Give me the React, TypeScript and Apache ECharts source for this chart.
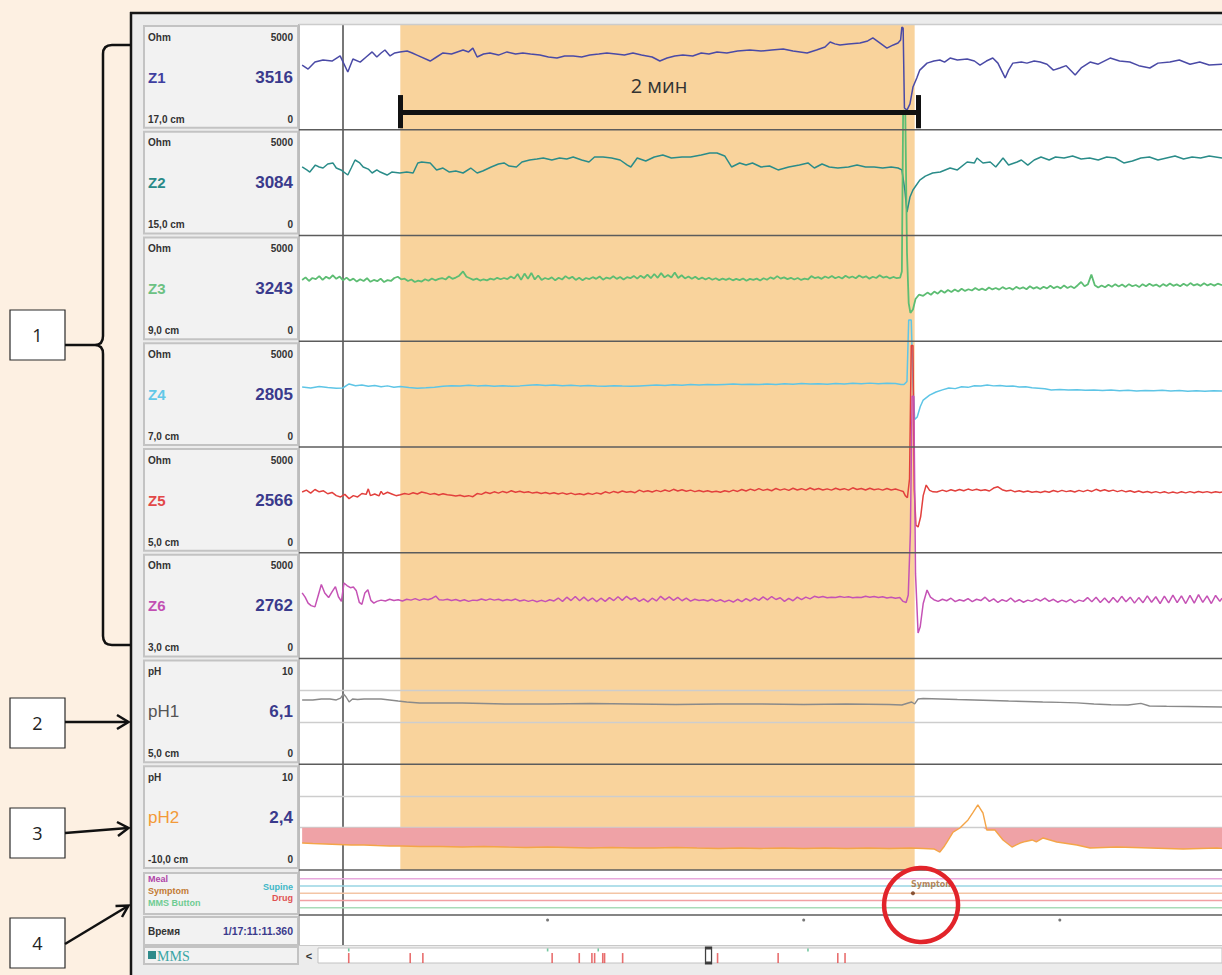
import React, { useEffect, useRef } from "react";
import * as echarts from "echarts";

// ---------- time scale (seconds) ----------
const T_START = 2;
const T_END = 218;
const CURSOR_T = 12;
const EPISODE: [number, number] = [25.5, 146];
const BRACKET: [number, number] = [25.4, 146.8];
const BRACKET_LABEL = "2 мин";
const TIME_TICKS = [60, 120, 180];

// ---------- channel labels ----------
const CHANNEL_NAMES = ["Z1", "Z2", "Z3", "Z4", "Z5", "Z6", "pH1", "pH2"];
const CHANNEL_VALUES = ["3516", "3084", "3243", "2805", "2566", "2762", "6,1", "2,4"];
const CHANNEL_POS = ["17,0 cm", "15,0 cm", "9,0 cm", "7,0 cm", "5,0 cm", "3,0 cm", "5,0 cm", "-10,0 cm"];
const CHANNEL_UNITS = ["Ohm", "Ohm", "Ohm", "Ohm", "Ohm", "Ohm", "pH", "pH"];
const CHANNEL_MAX = [5000, 5000, 5000, 5000, 5000, 5000, 10, 10];
const PH_GRID = [4, 7];
const TIME_LABEL = "Время";
const TIME_VALUE = "1/17:11:11.360";

// ---------- events ----------
const EVENT_LEFT = ["Meal", "Symptom", "MMS Button"];
const EVENT_RIGHT = ["Supine", "Drug"];
const EVENT_LEVELS = [5, 4, 3, 2, 1]; // Meal, Supine, Symptom, Drug, MMS
const SYMPTOM_EVENTS: [number, number][] = [[145.6, 3]];
const SYMPTOM_NAME = "Symptom";

// ---------- overview scroll bar (0..1000 of recording) ----------
const SCROLL_RED = [34, 102, 116, 259, 289, 303, 306, 315, 317, 337, 442, 509, 575, 583];
const SCROLL_GREEN = [34, 254, 310, 542];
const SCROLL_VIEW = 432;

// ---------- impedance traces (Ohm) ----------
const Z1: [number, number][] = [
  [2.5,3060],[3.9,2870],[5.5,3200],[7.4,3300],[9.5,3250],[11.4,3490],[13.2,2730],[14.4,3345],[16.1,3200],[17.5,3440],[18.9,3680],[20.0,3440],[21.0,3630],[21.9,3770],[23.1,3490],[24.2,3630],[25.4,3680],[27.1,3720],[28.3,3630],[29.4,3530],[32.5,3250],[34.0,3440],[35.5,3630],[37.5,3580],[40.2,3770],[41.5,3680],[42.5,3860],[43.5,3440],[45.0,3580],[46.5,3630],[48.5,3530],[50.5,3680],[52.5,3580],[54.2,3630],[56.0,3580],[58.2,3530],[60.2,3440],[62.2,3390],[64.0,3490],[66.0,3490],[68.0,3440],[69.9,3530],[72.0,3580],[73.9,3630],[76.0,3580],[78.0,3530],[80.0,3630],[82.0,3530],[84.5,3440],[86.3,3250],[88.0,3390],[89.8,3490],[91.7,3530],[94.0,3490],[96.0,3630],[97.8,3580],[99.7,3680],[102.0,3630],[104.5,3720],[107.4,3770],[110.0,3720],[112.5,3770],[115.2,3820],[117.5,3720],[120.8,3630],[123.0,3770],[125.0,3910],[126.2,4150],[127.3,4060],[128.5,4010],[130.5,4060],[133.2,4100],[135.0,4200],[136.2,4340],[137.5,4150],[139.5,3860],[141.0,4010],[142.1,4100],[142.7,4240],[143.0,4860],[143.3,4810],[143.6,1030],[144.2,930],[144.9,1220],[145.6,2020],[146.5,2450],[147.2,2820],[148.9,3150],[150.5,3250],[151.9,3300],[153.0,3200],[154.3,3390],[156.0,3300],[158.3,3345],[160.0,3250],[161.3,3060],[162.8,3250],[164.3,3390],[165.5,3150],[167.2,2450],[168.0,2820],[169.0,3150],[171.0,3200],[172.3,3150],[174.0,3250],[175.4,3200],[177.0,3100],[178.5,2820],[180.0,2920],[181.5,3030],[183.6,2590],[185.0,2920],[187.1,3200],[189.0,3100],[191.8,3390],[194.0,3250],[196.4,3200],[198.5,3030],[201.1,2920],[203.0,3150],[205.8,3200],[208.0,3300],[210.5,3100],[212.8,3200],[215.0,3060],[218.0,3100]
];
const Z2: [number, number][] = [
  [2.5,3240],[3.6,3100],[4.3,3000],[5.6,3330],[6.5,3240],[7.4,3190],[8.5,3380],[9.7,3430],[10.5,3190],[11.6,3100],[13.2,2860],[14.0,3190],[14.9,3570],[16.0,3430],[16.8,3240],[18.0,3140],[18.9,2955],[20.0,3100],[20.8,3000],[22.4,2860],[23.5,3000],[25.4,2955],[27.0,3000],[28.5,2955],[29.6,3430],[30.5,3475],[32.5,3430],[34.0,3100],[35.5,3190],[37.0,3000],[38.5,3050],[40.2,2955],[42.0,3190],[43.5,2955],[44.8,3050],[46.8,3240],[48.5,3380],[49.8,3430],[51.0,3285],[52.7,3240],[54.0,3475],[55.8,3570],[57.5,3620],[59.0,3665],[61.0,3570],[62.8,3665],[64.5,3620],[66.0,3710],[68.0,3570],[69.7,3475],[71.0,3710],[73.0,3710],[75.0,3665],[77.0,3570],[78.7,3330],[79.5,3240],[81.0,3665],[83.0,3520],[85.0,3710],[87.0,3805],[89.0,3665],[91.5,3710],[93.5,3710],[96.0,3805],[98.0,3900],[99.7,3900],[101.5,3760],[103.1,3240],[105.0,3430],[106.5,3330],[108.0,3430],[110.0,3240],[112.0,3285],[114.0,3100],[116.5,3240],[119.0,3330],[121.0,3430],[122.5,3190],[124.3,3380],[126.0,3240],[128.0,3190],[130.5,3240],[132.5,3330],[134.5,3240],[136.5,3240],[138.5,3190],[140.5,3240],[142.1,3190],[143.0,3100],[143.7,2150],[144.2,1110],[144.9,1820],[145.6,2150],[147.2,2620],[148.5,2810],[150.2,2955],[152.0,3000],[154.3,3190],[156.0,3100],[158.3,3475],[160.0,3430],[160.6,3665],[162.0,3430],[163.7,3475],[165.0,3240],[166.7,3665],[168.0,3330],[170.0,3475],[171.0,3570],[172.5,3330],[174.0,3570],[175.6,3710],[177.5,3570],[179.0,3710],[181.0,3665],[183.0,3760],[185.0,3620],[187.0,3665],[189.0,3570],[191.0,3710],[193.0,3665],[195.0,3430],[197.0,3520],[199.0,3665],[201.0,3710],[203.0,3570],[205.0,3665],[207.0,3760],[209.0,3620],[211.0,3710],[213.0,3665],[215.0,3760],[218.0,3665]
];
const Z3: [number, number][] = [
  [2.5,2900],[3.3,3020],[4.1,2850],[4.9,2990],[5.7,2940],[6.5,3080],[7.3,2900],[8.1,3050],[8.9,2960],[9.7,3120],[10.5,2950],[11.3,3060],[12.1,2880],[12.9,3010],[13.7,2870],[14.5,2960],[15.3,2820],[16.1,2930],[16.9,2850],[17.7,2980],[18.5,2810],[19.3,2900],[20.1,2840],[20.9,2960],[21.7,2800],[22.5,2890],[23.3,2850],[24.1,2990],[24.9,3050],[25.7,2930],[26.5,2960],[27.3,2850],[28.1,2920],[28.9,2800],[29.7,2870],[30.5,2820],[31.3,2930],[32.1,2860],[32.9,2970],[33.7,2880],[34.5,2950],[35.3,2990],[36.1,2920],[36.9,3060],[37.7,2950],[38.5,3010],[39.3,3100],[40.2,3300],[41.0,3050],[41.8,2980],[42.6,2900],[43.4,2960],[44.2,2870],[45.0,2930],[45.8,2880],[46.6,2960],[47.4,2910],[48.2,3000],[49.0,2930],[49.8,2990],[50.6,2940],[51.4,3060],[52.2,2970],[53.0,3180],[53.8,2900],[54.6,3200],[55.4,2950],[56.2,3230],[57.0,2920],[57.8,3110],[58.6,2900],[59.4,2990],[60.2,2930],[61.0,3020],[61.8,2880],[62.6,3000],[63.4,2920],[64.2,3080],[65.0,2960],[65.8,3050],[66.6,2900],[67.4,3000],[68.2,2880],[69.0,2990],[69.8,2940],[70.6,3030],[71.4,2950],[72.2,3060],[73.0,2910],[73.8,3010],[74.6,2960],[75.4,3070],[76.2,2950],[77.0,3040],[77.8,2920],[78.6,3030],[79.4,2980],[80.2,3090],[81.0,2960],[81.8,3100],[82.6,2990],[83.4,3150],[84.2,2980],[85.0,3180],[85.8,3000],[86.6,3220],[87.4,3020],[88.2,3130],[89.0,3010],[89.8,3250],[90.6,2990],[91.4,3120],[92.2,2970],[93.0,3060],[93.8,2950],[94.6,3050],[95.4,2930],[96.2,3010],[97.0,2920],[97.8,3000],[98.6,2910],[99.4,2980],[100.2,2890],[101.0,2960],[101.8,2900],[102.6,2970],[103.4,2880],[104.2,2950],[105.0,2890],[105.8,2970],[106.6,2860],[107.4,2950],[108.2,2900],[109.0,2960],[109.8,2870],[110.6,2980],[111.4,2910],[112.2,3020],[113.0,2950],[113.8,3080],[114.6,2960],[115.4,3020],[116.2,2940],[117.0,3000],[117.8,2920],[118.6,2990],[119.4,2900],[120.2,2960],[121.0,2920],[121.8,3080],[122.6,2990],[123.4,3030],[124.2,2950],[125.0,3060],[125.8,2990],[126.6,3090],[127.4,2980],[128.2,3050],[129.0,2970],[129.8,3100],[130.6,3000],[131.4,3060],[132.2,2980],[133.0,3110],[133.8,3010],[134.6,3070],[135.4,2960],[136.2,3050],[137.0,2990],[137.8,3120],[138.6,3010],[139.4,3060],[140.2,2970],[141.0,3040],[141.8,2980],[142.6,3010],[143.0,3300],[143.3,10900],[143.8,10900],[144.2,4200],[144.6,1800],[145.0,1340],[145.6,1500],[146.2,2000],[147.0,2200],[148.0,2150],[149.0,2300],[149.8,2200],[150.6,2350],[151.4,2250],[152.2,2400],[153.0,2290],[153.8,2420],[154.6,2330],[155.4,2450],[156.2,2350],[157.0,2480],[157.8,2380],[158.6,2460],[159.4,2400],[160.2,2520],[161.0,2420],[161.8,2490],[162.6,2410],[163.4,2540],[164.2,2450],[165.0,2520],[165.8,2440],[166.6,2560],[167.4,2470],[168.2,2530],[169.0,2440],[169.8,2570],[170.6,2480],[171.4,2550],[172.2,2460],[173.0,2600],[173.8,2490],[174.6,2560],[175.4,2470],[176.2,2580],[177.0,2500],[177.8,2620],[178.6,2510],[179.4,2590],[180.2,2500],[181.0,2640],[181.8,2520],[182.6,2600],[183.4,2510],[184.2,2650],[185.0,2800],[185.8,2600],[186.6,2700],[187.4,3150],[188.2,2650],[189.0,2540],[189.8,2640],[190.6,2550],[191.4,2670],[192.2,2580],[193.0,2700],[193.8,2590],[194.6,2680],[195.4,2570],[196.2,2700],[197.0,2600],[197.8,2660],[198.6,2560],[199.4,2700],[200.2,2600],[201.0,2720],[201.8,2620],[202.6,2680],[203.4,2580],[204.2,2700],[205.0,2610],[205.8,2730],[206.6,2620],[207.4,2690],[208.2,2600],[209.0,2720],[209.8,2620],[210.6,2750],[211.4,2640],[212.2,2700],[213.0,2620],[213.8,2740],[214.6,2640],[215.4,2710],[216.2,2630],[217.0,2720],[218.0,2650]
];
const Z4: [number, number][] = [
  [2.5,2840],[4.5,2790],[6.5,2860],[8.5,2810],[10.5,2780],[12.0,2790],[13.5,2980],[15.0,2900],[16.5,2930],[18.0,2870],[19.5,2910],[21.0,2850],[22.5,2890],[24.0,2830],[25.5,2860],[27.5,2810],[29.5,2780],[31.5,2800],[33.5,2830],[35.5,2870],[37.5,2900],[39.5,2880],[41.5,2920],[43.5,2890],[45.5,2910],[47.5,2870],[49.5,2900],[51.5,2870],[53.5,2890],[55.5,2920],[57.5,2940],[59.5,2910],[61.5,2930],[63.5,2900],[65.5,2920],[67.5,2890],[69.5,2910],[71.5,2880],[73.5,2870],[75.5,2900],[77.5,2880],[79.5,2870],[81.5,2890],[83.5,2910],[85.5,2930],[87.5,2910],[89.5,2940],[91.5,2920],[93.5,2950],[95.5,2930],[97.5,2960],[99.5,2940],[101.5,2960],[103.5,2980],[105.5,2950],[107.5,2970],[109.5,2950],[111.5,2980],[113.5,2960],[115.5,2990],[117.5,2970],[119.5,3000],[121.5,2980],[123.5,2990],[125.5,2970],[127.5,3000],[129.5,2980],[131.5,3010],[133.5,2990],[135.5,3020],[137.5,2990],[139.5,3010],[141.5,3000],[142.8,2960],[143.5,2950],[144.2,3100],[144.6,6000],[145.2,6000],[145.6,3000],[146.0,1300],[146.6,1420],[147.3,1900],[148.0,2220],[149.5,2450],[151.0,2600],[152.5,2700],[154.0,2790],[155.5,2760],[157.0,2850],[158.5,2820],[160.0,2900],[161.5,2880],[163.0,2930],[164.5,2890],[166.0,2910],[167.5,2870],[169.0,2880],[170.5,2840],[172.0,2850],[173.5,2800],[175.0,2780],[176.5,2750],[178.0,2700],[180.0,2720],[182.0,2690],[184.0,2710],[186.0,2680],[188.0,2700],[190.0,2670],[192.0,2690],[194.0,2660],[196.0,2680],[198.0,2650],[200.0,2670],[202.0,2660],[204.0,2680],[206.0,2650],[208.0,2670],[210.0,2640],[212.0,2660],[214.0,2640],[216.0,2660],[218.0,2650]
];
const Z5: [number, number][] = [
  [2.5,2870],[3.5,2960],[4.5,2820],[5.5,2990],[6.5,2880],[7.5,2930],[8.5,2790],[9.5,2850],[10.5,2700],[11.5,2640],[12.5,2760],[13.5,2560],[14.5,2700],[15.5,2640],[16.5,2800],[17.5,2760],[18.0,3020],[18.5,2700],[19.5,2780],[20.5,2690],[21.0,2900],[21.5,2760],[22.5,2860],[23.5,2780],[24.5,2700],[25.5,2740],[26.5,2800],[27.5,2760],[28.5,2840],[29.5,2780],[30.5,2870],[31.5,2830],[32.5,2760],[33.5,2800],[34.5,2730],[35.5,2790],[36.5,2740],[37.5,2720],[38.5,2680],[39.5,2720],[40.5,2660],[41.5,2700],[42.5,2650],[43.5,2800],[44.5,2760],[45.5,2860],[46.5,2800],[47.5,2880],[48.5,2820],[49.5,2900],[50.5,2840],[51.5,2930],[52.5,2860],[53.5,2910],[54.5,2850],[55.5,2880],[56.5,2820],[57.5,2860],[58.5,2800],[59.5,2850],[60.5,2790],[61.5,2840],[62.5,2780],[63.5,2830],[64.5,2770],[65.5,2820],[66.5,2750],[67.5,2790],[68.5,2740],[69.5,2810],[70.5,2760],[71.5,2830],[72.5,2780],[73.5,2880],[74.5,2820],[75.5,2900],[76.5,2840],[77.5,2920],[78.5,2860],[79.5,2900],[80.5,2840],[81.5,2960],[82.5,2880],[83.5,2930],[84.5,2870],[85.5,2950],[86.5,2890],[87.5,2970],[88.5,2900],[89.5,3000],[90.5,2920],[91.5,2980],[92.5,2910],[93.5,2960],[94.5,2890],[95.5,2940],[96.5,2880],[97.5,2930],[98.5,2870],[99.5,2910],[100.5,2860],[101.5,2930],[102.5,2880],[103.5,2960],[104.5,2900],[105.5,2990],[106.5,2920],[107.5,3010],[108.5,2940],[109.5,3030],[110.5,2950],[111.5,3000],[112.5,2930],[113.5,3040],[114.5,2960],[115.5,3020],[116.5,2950],[117.5,3050],[118.5,2970],[119.5,3030],[120.5,2960],[121.5,3060],[122.5,2980],[123.5,3040],[124.5,2970],[125.5,3020],[126.5,2960],[127.5,3050],[128.5,2980],[129.5,3030],[130.5,2960],[131.5,3070],[132.5,2990],[133.5,3040],[134.5,2970],[135.5,3050],[136.5,2980],[137.5,3020],[138.5,2960],[139.5,3040],[140.5,2970],[141.5,3010],[142.5,2950],[143.3,2900],[143.8,2700],[144.3,2600],[144.8,3500],[145.2,9800],[145.6,9800],[145.9,3000],[146.3,1300],[146.8,1220],[147.4,1700],[148.0,2700],[148.7,3200],[149.5,2950],[150.3,2880],[151.2,2870],[152.5,2960],[153.5,2900],[154.5,2980],[155.5,2920],[156.5,2990],[157.5,2930],[158.5,3010],[159.5,2950],[160.5,3000],[161.5,2940],[162.5,2980],[163.5,2920],[164.5,3060],[165.5,3120],[166.5,2980],[167.5,2920],[168.5,2960],[169.5,2880],[170.5,2930],[171.5,2870],[172.5,2920],[173.5,2860],[174.5,2900],[175.5,2850],[176.5,2910],[177.5,2860],[178.5,2940],[179.5,2880],[180.5,2950],[181.5,2890],[182.5,2930],[183.5,2870],[184.5,2950],[185.5,2890],[186.5,2960],[187.5,2900],[188.5,3000],[189.5,2920],[190.5,2980],[191.5,2910],[192.5,2960],[193.5,2890],[194.5,2950],[195.5,2880],[196.5,2930],[197.5,2860],[198.5,2920],[199.5,2850],[200.5,2900],[201.5,2840],[202.5,2890],[203.5,2830],[204.5,2880],[205.5,2820],[206.5,2870],[207.5,2820],[208.5,2880],[209.5,2830],[210.5,2890],[211.5,2840],[212.5,2900],[213.5,2850],[214.5,2890],[215.5,2840],[216.5,2880],[217.5,2850],[218.0,2870]
];
const Z6: [number, number][] = [
  [2.5,3100],[3.2,2900],[3.9,2620],[4.6,2500],[5.5,2440],[6.3,3000],[7.0,3500],[7.8,3100],[8.7,2880],[9.5,3150],[10.3,3400],[11.0,2920],[11.7,2700],[12.3,3570],[13.0,3450],[13.8,3350],[14.5,3380],[15.2,3200],[15.9,2650],[16.5,2560],[17.2,3100],[17.9,3250],[18.6,2750],[19.3,2620],[20.0,2700],[21.0,2760],[22.0,2720],[23.0,2800],[24.0,2740],[25.0,2780],[26.0,2720],[27.0,2800],[28.0,2760],[29.0,2830],[30.0,2750],[31.0,2820],[32.0,2780],[33.0,2850],[33.8,2950],[34.6,2780],[35.5,2760],[36.5,2800],[37.5,2740],[38.5,2790],[39.5,2720],[40.5,2780],[41.5,2700],[42.5,2760],[43.5,2740],[44.5,2810],[45.5,2750],[46.5,2820],[47.5,2760],[48.5,2800],[49.5,2730],[50.5,2790],[51.5,2740],[52.5,2810],[53.5,2720],[54.5,2770],[55.5,2700],[56.5,2760],[57.5,2680],[58.5,2750],[59.5,2690],[60.5,2780],[61.5,2720],[62.5,2860],[63.5,2700],[64.5,2900],[65.5,2740],[66.5,2930],[67.5,2730],[68.5,2900],[69.5,2720],[70.5,2860],[71.5,2690],[72.5,2850],[73.5,2700],[74.5,2880],[75.5,2740],[76.5,2920],[77.5,2750],[78.5,2940],[79.5,2780],[80.5,2880],[81.5,2700],[82.5,2820],[83.5,2680],[84.5,2850],[85.5,2720],[86.5,2940],[87.5,2770],[88.5,2910],[89.5,2750],[90.5,2890],[91.5,2730],[92.5,2850],[93.5,2710],[94.5,2800],[95.5,2740],[96.5,2780],[97.5,2720],[98.5,2800],[99.5,2700],[100.5,2780],[101.5,2680],[102.5,2760],[103.5,2670],[104.5,2800],[105.5,2690],[106.5,2830],[107.5,2720],[108.5,2860],[109.5,2750],[110.5,2910],[111.5,2770],[112.5,2930],[113.5,2790],[114.5,2870],[115.5,2700],[116.5,2840],[117.5,2730],[118.5,2900],[119.5,2780],[120.5,2900],[121.5,2820],[122.5,2940],[123.5,2880],[124.5,2930],[125.5,2870],[126.5,2900],[127.5,2880],[128.5,2930],[129.5,2890],[130.5,2920],[131.5,2870],[132.5,2900],[133.5,2880],[134.5,2940],[135.5,2900],[136.5,2930],[137.5,2880],[138.5,2920],[139.5,2860],[140.5,2900],[141.5,2850],[142.5,2880],[143.3,2700],[144.0,2650],[144.5,3000],[145.0,6000],[145.4,12400],[145.8,12400],[146.2,4000],[146.8,1210],[147.3,1500],[148.0,2600],[148.9,3240],[149.7,2900],[150.5,2780],[151.5,2700],[152.5,2800],[153.5,2730],[154.5,2850],[155.5,2690],[156.5,2780],[157.5,2720],[158.5,2830],[159.5,2690],[160.5,2800],[161.5,2740],[162.5,2900],[163.5,2700],[164.5,2820],[165.5,2650],[166.5,2780],[167.5,2700],[168.5,2860],[169.5,2680],[170.5,2780],[171.5,2660],[172.5,2760],[173.5,2700],[174.5,2820],[175.5,2720],[176.5,2850],[177.5,2700],[178.5,2800],[179.5,2660],[180.5,2760],[181.5,2680],[182.5,2800],[183.5,2640],[184.5,2760],[185.5,2700],[186.5,2880],[187.5,2680],[188.5,2900],[189.5,2650],[190.5,2860],[191.5,2640],[192.5,2880],[193.5,2660],[194.5,2940],[195.5,2680],[196.5,2900],[197.5,2620],[198.5,2880],[199.5,2640],[200.5,2960],[201.5,2660],[202.5,2920],[203.5,2600],[204.5,2950],[205.5,2630],[206.5,3000],[207.5,2640],[208.5,2960],[209.5,2600],[210.5,2980],[211.5,2620],[212.5,3020],[213.5,2650],[214.5,2960],[215.5,2600],[216.5,2980],[217.5,2700],[218.0,2850]
];

// ---------- pH traces ----------
const PH1: [number, number][] = [
  [2.5,6.08],[5,6.08],[7,6.17],[9,6.17],[10.5,6.08],[11.5,6.26],[12.2,6.64],[12.8,6.36],[13.5,5.89],[14.3,6.17],[15.5,6.12],[17,6.17],[19,6.17],[21,6.17],[23,6.08],[25,5.98],[27,5.89],[30,5.79],[35,5.79],[40,5.79],[50,5.70],[60,5.70],[70,5.74],[80,5.70],[90,5.65],[100,5.70],[110,5.70],[120,5.65],[130,5.70],[140,5.65],[143,5.60],[144.5,5.79],[145.3,5.89],[146,5.70],[146.8,6.17],[148,6.22],[152,6.17],[156,6.12],[160,6.08],[164,6.03],[168,5.98],[172,5.94],[176,5.89],[180,5.85],[184,5.80],[188,5.70],[192,5.62],[196,5.60],[199,5.76],[201,5.51],[205,5.48],[210,5.46],[214,5.44],[218,5.41]
];
const PH2: [number, number][] = [
  [2.5,2.55],[5,2.50],[8,2.46],[11,2.41],[14,2.36],[17,2.36],[20,2.31],[23,2.27],[26,2.27],[30,2.22],[35,2.22],[40,2.17],[45,2.22],[50,2.17],[55,2.13],[60,2.17],[65,2.13],[70,2.08],[75,2.13],[80,2.08],[85,2.08],[90,2.13],[95,2.08],[100,2.04],[105,2.08],[110,2.04],[115,2.08],[120,2.04],[125,2.08],[130,2.04],[135,2.08],[140,2.04],[145,2.08],[148,2.04],[150.5,1.99],[151.9,1.70],[153.0,2.27],[153.6,2.65],[155.0,3.59],[156.6,3.97],[158.5,4.73],[159.6,5.40],[160.8,6.15],[162.0,5.39],[162.9,3.78],[164.8,3.78],[166.7,2.84],[168.8,2.17],[170.7,2.55],[172.0,2.70],[173.5,2.84],[174.5,2.65],[176.1,3.03],[179.3,2.65],[184.0,2.36],[187.1,2.08],[193.4,2.17],[201.1,2.08],[208.9,1.99],[216.8,2.08],[218,2.04]
];
const ACID_THRESHOLD = 4;

// ---------- layout ----------
const W = 1222;
const H = 975;
const PLOT_L = 300;
const PLOT_W = 922;
const ROW_TOP = 24;
const ROW_H = 105.75;

const Z_DATA = [Z1, Z2, Z3, Z4, Z5, Z6];
const Z_COLORS = ["#4a4aa6", "#2a8c89", "#5dbd73", "#5ec5e6", "#e2403d", "#c552b5"];
const NAME_COLORS = ["#3f3fa0", "#2a8a88", "#6cc183", "#62c8e8", "#e24848", "#c24fb2", "#555555", "#f39a38"];
const EVENT_COLORS = ["#e8a9dd", "#98d5e3", "#f3c5a5", "#f2a0a3", "#a9dcb8"];
const EVENT_LEFT_COLORS = ["#b044a8", "#c27a34", "#6fcc92"];
const EVENT_RIGHT_COLORS = ["#3fb7c7", "#e05252"];

const FONT = '"Liberation Sans", Arial, sans-serif';

function buildGraphic(): any[] {
  const g: any[] = [];
  g.push({ type: "rect", z: 0, silent: true, shape: { x: 132, y: 14, width: W - 132, height: H - 14 }, style: { fill: "#ececec" } });
  g.push({ type: "rect", z: 0, silent: true, shape: { x: 299, y: 24, width: W - 299, height: 921 }, style: { fill: "#ffffff" } });
  g.push({ type: "line", z: 6, silent: true, shape: { x1: 130, y1: 13, x2: W, y2: 13 }, style: { stroke: "#161616", lineWidth: 2.5 } });
  g.push({ type: "line", z: 6, silent: true, shape: { x1: 131, y1: 12, x2: 131, y2: H }, style: { stroke: "#161616", lineWidth: 2.5 } });
  g.push({ type: "line", z: 6, silent: true, shape: { x1: 299, y1: 24, x2: 299, y2: 945 }, style: { stroke: "#bdbdbd", lineWidth: 2 } });
  g.push({ type: "line", z: 6, silent: true, shape: { x1: 299, y1: 24.5, x2: W, y2: 24.5 }, style: { stroke: "#cccccc", lineWidth: 1.5 } });
  for (let i = 1; i <= 8; i++) {
    const y = ROW_TOP + i * ROW_H;
    g.push({ type: "line", z: 6, silent: true, shape: { x1: 299, y1: y, x2: W, y2: y }, style: { stroke: "#5c5c5c", lineWidth: 1.6 } });
  }
  g.push({ type: "line", z: 6, silent: true, shape: { x1: 299, y1: 915, x2: W, y2: 915 }, style: { stroke: "#5c5c5c", lineWidth: 1.6 } });
  g.push({ type: "line", z: 6, silent: true, shape: { x1: 299, y1: 945.5, x2: W, y2: 945.5 }, style: { stroke: "#c8c8c8", lineWidth: 1.2 } });
  g.push({ type: "rect", z: 1, silent: true, shape: { x: 318, y: 948, width: W - 318, height: 15 }, style: { fill: "#ffffff", stroke: "#c2c2c2", lineWidth: 1 } });
  g.push({ type: "text", z: 6, silent: true, x: 309, y: 956, style: { text: "<", fill: "#333", font: `bold 11px ${FONT}`, textAlign: "center", textVerticalAlign: "middle" } });

  const cell = (y: number, h: number) => ({ type: "rect", z: 1, silent: true, shape: { x: 144, y, width: 154, height: h }, style: { fill: "#f2f2f2", stroke: "#c3c3c3", lineWidth: 2 } });
  CHANNEL_NAMES.forEach((name, i) => {
    const top = ROW_TOP + i * ROW_H;
    g.push(cell(top + 2, ROW_H - 4));
    const isPh = i >= 6;
    const txt = (text: string, x: number, y: number, font: string, fill: string, align = "left") => ({
      type: "text", z: 6, silent: true, x, y,
      style: { text, fill, font, textAlign: align, textVerticalAlign: "middle" },
    });
    g.push(txt(CHANNEL_UNITS[i], 148, top + 13, `bold 10px ${FONT}`, "#333"));
    g.push(txt(String(CHANNEL_MAX[i]), 293, top + 13, `bold 10px ${FONT}`, "#333", "right"));
    g.push(txt(name, 148, top + 53, isPh ? `17px ${FONT}` : `bold 15px ${FONT}`, NAME_COLORS[i]));
    g.push(txt(CHANNEL_VALUES[i], 293, top + 53, `bold 17px ${FONT}`, "#3a3a8c", "right"));
    g.push(txt(CHANNEL_POS[i], 148, top + 95, `bold 10px ${FONT}`, "#333"));
    g.push(txt("0", 293, top + 95, `bold 10px ${FONT}`, "#333", "right"));
  });
  g.push(cell(873, 41));
  const evLeftY = [879, 891, 903];
  EVENT_LEFT.forEach((t, k) => g.push({ type: "text", z: 6, silent: true, x: 148, y: evLeftY[k], style: { text: t, fill: EVENT_LEFT_COLORS[k], font: `bold 9px ${FONT}`, textAlign: "left", textVerticalAlign: "middle" } }));
  const evRightY = [887, 898];
  EVENT_RIGHT.forEach((t, k) => g.push({ type: "text", z: 6, silent: true, x: 293, y: evRightY[k], style: { text: t, fill: EVENT_RIGHT_COLORS[k], font: `bold 9px ${FONT}`, textAlign: "right", textVerticalAlign: "middle" } }));
  g.push(cell(917, 28));
  g.push({ type: "text", z: 6, silent: true, x: 148, y: 931, style: { text: TIME_LABEL, fill: "#333", font: `bold 10px ${FONT}`, textAlign: "left", textVerticalAlign: "middle" } });
  g.push({ type: "text", z: 6, silent: true, x: 293, y: 931, style: { text: TIME_VALUE, fill: "#3a3a8c", font: `bold 10.5px ${FONT}`, textAlign: "right", textVerticalAlign: "middle" } });
  g.push(cell(947, 17));
  g.push({ type: "rect", z: 6, silent: true, shape: { x: 148, y: 951, width: 8, height: 8 }, style: { fill: "#2f8a8a" } });
  g.push({ type: "text", z: 6, silent: true, x: 157, y: 956, style: { text: "MMS", fill: "#3aa5a5", font: `14px "Liberation Serif", serif`, textAlign: "left", textVerticalAlign: "middle" } });

  const boxes = [
    { label: "1", y: 310 },
    { label: "2", y: 698 },
    { label: "3", y: 808 },
    { label: "4", y: 918 },
  ];
  boxes.forEach((b) => {
    g.push({ type: "rect", z: 6, silent: true, shape: { x: 10, y: b.y, width: 55, height: 50 }, style: { fill: "#ffffff", stroke: "#2a2a2a", lineWidth: 1.2 } });
    g.push({ type: "text", z: 7, silent: true, x: 37.5, y: b.y + 25, style: { text: b.label, fill: "#222", font: `18px "Open Sans", sans-serif`, textAlign: "center", textVerticalAlign: "middle" } });
  });
  g.push({ type: "brace", z: 6, silent: true, x: 0, y: 0, style: { stroke: "#111", lineWidth: 2.5, fill: null } });
  const arrowStyle = { stroke: "#111", lineWidth: 2.5, fill: null };
  g.push({ type: "polyline", z: 6, silent: true, shape: { points: [[65, 722], [128, 722]] }, style: arrowStyle });
  g.push({ type: "polyline", z: 6, silent: true, shape: { points: [[117, 715], [128.5, 722], [117, 729]] }, style: arrowStyle });
  g.push({ type: "polyline", z: 6, silent: true, shape: { points: [[65, 833], [128, 828]] }, style: arrowStyle });
  g.push({ type: "polyline", z: 6, silent: true, shape: { points: [[117, 822], [128.5, 828], [118, 836]] }, style: arrowStyle });
  g.push({ type: "polyline", z: 6, silent: true, shape: { points: [[65, 944], [128, 906]] }, style: arrowStyle });
  g.push({ type: "polyline", z: 6, silent: true, shape: { points: [[115.5, 906], [128.5, 905.5], [122, 917]] }, style: arrowStyle });
  return g;
}

let shapesRegistered = false;
function registerShapes() {
  if (shapesRegistered) return;
  const d = "M131,45 L112,45 Q103,45 103,54 L103,336 Q103,345 95,345 Q103,345 103,354 L103,636 Q103,645 112,645 L131,645 M65,345 L95,345";
  echarts.graphic.registerShape("brace", echarts.graphic.extendPath(d, {}) as any);
  shapesRegistered = true;
}

function buildOption(): any {
  const rowTops = CHANNEL_NAMES.map((_, i) => ROW_TOP + i * ROW_H);
  const grids: any[] = rowTops.map((top) => ({ left: PLOT_L, width: PLOT_W, top, height: ROW_H }));
  grids.push({ left: PLOT_L, width: PLOT_W, top: 870, height: 45 }); // 8 events
  grids.push({ left: PLOT_L, width: PLOT_W, top: 915, height: 30 }); // 9 time
  grids.push({ left: PLOT_L, width: PLOT_W, top: ROW_TOP, height: 870 - ROW_TOP }); // 10 overlay
  grids.push({ left: PLOT_L, width: PLOT_W, top: ROW_TOP, height: 945 - ROW_TOP }); // 11 cursor
  grids.push({ left: 318, width: W - 318, top: 948, height: 15 }); // 12 scroll

  const xAxis = grids.map((_, i) => ({
    type: "value", gridIndex: i, show: false,
    min: i === 12 ? 0 : T_START, max: i === 12 ? 1000 : T_END,
  }));
  const yRanges: [number, number][] = [
    ...CHANNEL_MAX.map((m) => [0, m] as [number, number]),
    [0, 6.2], [0, 1], [0, 1], [0, 1], [0, 1],
  ];
  const yAxis = yRanges.map((r, i) => ({ type: "value", gridIndex: i, show: false, min: r[0], max: r[1] }));

  const series: any[] = [];
  const base = (i: number) => ({ xAxisIndex: i, yAxisIndex: i, silent: true, animation: false });

  series.push({
    ...base(10), type: "line", data: [[T_START, 0]], symbol: "none", lineStyle: { opacity: 0 }, z: 1,
    markArea: { silent: true, z: 1, itemStyle: { color: "#f9d39c" }, label: { show: false }, data: [[{ xAxis: EPISODE[0] }, { xAxis: EPISODE[1] }]] },
  });
  series.push({
    ...base(11), type: "line", data: [[T_START, 0]], symbol: "none", lineStyle: { opacity: 0 }, z: 2,
    markLine: { silent: true, z: 2, symbol: ["none", "none"], label: { show: false }, lineStyle: { color: "#4a4a4a", width: 1.5, type: "solid" }, data: [{ xAxis: CURSOR_T }] },
  });

  Z_DATA.forEach((d, i) => {
    series.push({
      ...base(i), type: "line", data: d, symbol: "none", clip: false, z: 3,
      lineStyle: { color: Z_COLORS[i], width: i === 2 ? 1.8 : 1.5 },
    });
  });

  series.push({
    ...base(0), type: "line", data: [[T_START, -100]], symbol: "none", lineStyle: { opacity: 0 }, z: 6,
    markLine: {
      silent: true, z: 6, symbol: ["none", "none"], label: { show: false },
      lineStyle: { color: "#111", width: 5, type: "solid", cap: "butt" },
      data: [
        [{ coord: [BRACKET[0], 840] }, { coord: [BRACKET[1], 840] }],
        [{ coord: [BRACKET[0], 1640] }, { coord: [BRACKET[0], 70] }],
        [{ coord: [BRACKET[1], 1640] }, { coord: [BRACKET[1], 70] }],
      ],
    },
    markPoint: {
      silent: true, z: 6, symbol: "rect", symbolSize: 1, itemStyle: { color: "rgba(0,0,0,0)" },
      label: { show: true, position: "inside", formatter: BRACKET_LABEL, fontSize: 20, color: "#333", fontFamily: '"Open Sans", sans-serif' },
      data: [{ coord: [(BRACKET[0] + BRACKET[1]) / 2, 2070] }],
    },
  });

  const phGridLines = {
    silent: true, z: 2, symbol: ["none", "none"], label: { show: false },
    lineStyle: { color: "#cdcdcd", width: 1.3, type: "solid" },
    data: PH_GRID.map((v) => ({ yAxis: v })),
  };
  series.push({ ...base(6), type: "line", data: PH1, symbol: "none", z: 3, lineStyle: { color: "#8a8a8a", width: 1.4 }, markLine: phGridLines });

  // pH2 acid exposure fill (between trace and pH 4 where trace is below 4)
  series.push({
    ...base(7), type: "custom", z: 2, data: [[T_START, ACID_THRESHOLD]],
    renderItem: (_params: any, api: any) => {
      const pts: number[][] = [];
      PH2.forEach(([t, v]) => pts.push(api.coord([t, Math.min(v, ACID_THRESHOLD)])));
      for (let i = PH2.length - 1; i >= 0; i--) pts.push(api.coord([PH2[i][0], ACID_THRESHOLD]));
      return { type: "polygon", shape: { points: pts }, style: { fill: "#efa2a6" } };
    },
  });
  series.push({ ...base(7), type: "line", data: PH2, symbol: "none", z: 3, lineStyle: { color: "#f4a548", width: 1.4 }, markLine: phGridLines });

  EVENT_LEVELS.forEach((lv, k) => {
    series.push({ ...base(8), type: "line", data: [[T_START, lv], [T_END, lv]], symbol: "none", z: 3, lineStyle: { color: EVENT_COLORS[k], width: 1.5 } });
  });
  series.push({
    ...base(8), type: "scatter", data: SYMPTOM_EVENTS, symbol: "circle", symbolSize: 4, z: 5,
    itemStyle: { color: "#6e3212" },
    label: { show: true, formatter: SYMPTOM_NAME, position: [0, -11], fontSize: 8, fontWeight: "bold", color: "#a5672f", fontFamily: '"DejaVu Sans", sans-serif' },
    markPoint: {
      silent: true, z: 7, symbol: "circle", symbolSize: 74,
      itemStyle: { color: "rgba(0,0,0,0)", borderColor: "#e2242a", borderWidth: 4.5 },
      label: { show: false },
      data: [{ coord: [147.5, 1.38] }],
    },
  });
  series.push({ ...base(9), type: "scatter", data: TIME_TICKS.map((t) => [t, 0.83]), symbolSize: 3, z: 4, itemStyle: { color: "#555" } });

  series.push({ ...base(12), type: "scatter", data: SCROLL_RED.map((u) => [u, 0.33]), symbol: "rect", symbolSize: [1.6, 10], z: 4, itemStyle: { color: "#e24a4a" } });
  series.push({ ...base(12), type: "scatter", data: SCROLL_GREEN.map((u) => [u, 0.87]), symbol: "rect", symbolSize: [1.6, 3], z: 4, itemStyle: { color: "#52b98a" } });
  series.push({ ...base(12), type: "scatter", data: [[SCROLL_VIEW, 0.5]], symbol: "rect", symbolSize: [6, 15], z: 5, itemStyle: { color: "#ffffff", borderColor: "#111", borderWidth: 2 } });

  return {
    animation: false,
    backgroundColor: "transparent",
    grid: grids,
    xAxis,
    yAxis,
    series,
    graphic: { elements: buildGraphic() },
  };
}

export default function App() {
  const ref = useRef<HTMLDivElement>(null);
  useEffect(() => {
    if (!ref.current) return;
    registerShapes();
    const chart = echarts.init(ref.current, undefined, { renderer: "svg", width: W, height: H });
    chart.setOption(buildOption());
    return () => chart.dispose();
  }, []);
  return (
    <div style={{ position: "fixed", left: 0, top: 0, width: W, height: H, background: "#fdf0e2" }}>
      <div ref={ref} style={{ width: W, height: H }} />
    </div>
  );
}
